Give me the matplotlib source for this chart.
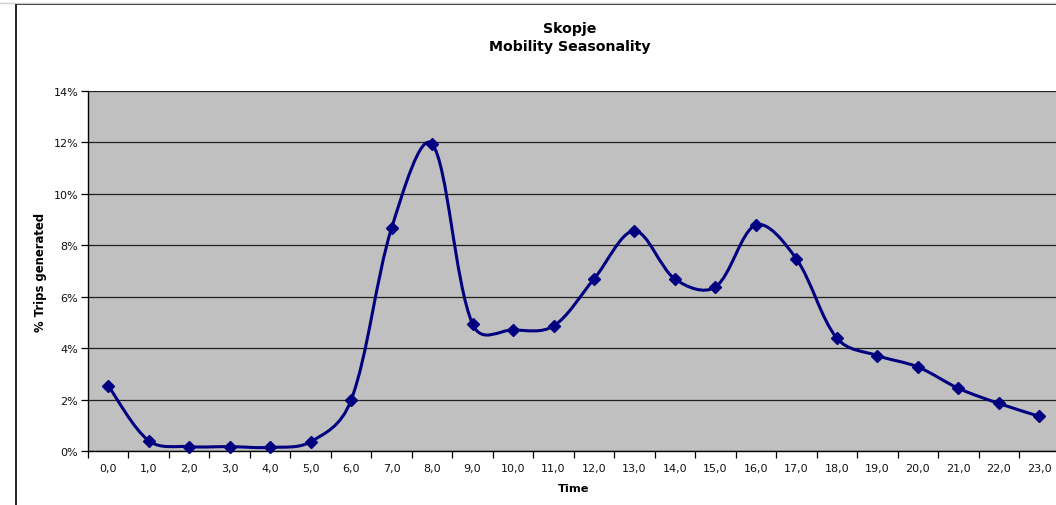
import numpy as np
import matplotlib
matplotlib.use("Agg")
import matplotlib.pyplot as plt
from matplotlib.path import Path
from matplotlib.patches import PathPatch
from matplotlib.lines import Line2D
from matplotlib.ticker import FixedLocator, FuncFormatter

hours = list(range(24))
hour_labels = ["%d,0" % h for h in hours]
trips = [2.54, 0.40, 0.17, 0.17, 0.14, 0.36, 1.98, 8.67, 11.94, 4.94, 4.71, 4.86,
         6.69, 8.56, 6.69, 6.38, 8.79, 7.47, 4.39, 3.71, 3.27, 2.44, 1.85, 1.35]

plt.rcParams['font.family'] = ['DejaVu Sans']

W, H = 1056, 506
fig = plt.figure(figsize=(W / 100, H / 100), dpi=100)

# outer chart border (cropped on right/bottom)
fig.add_artist(Line2D([16 / W, 16 / W], [0, 1 - 5 / H], color='black', lw=1.2))
fig.add_artist(Line2D([16 / W, 1], [1 - 5 / H, 1 - 5 / H], color='black', lw=1.2))
fig.add_artist(Line2D([0, 1], [1 - 3.5 / H, 1 - 3.5 / H], color='#d0d0d0', lw=1))

cat_w = (1039 - 108) / 23
left, right = 88, 88 + 24 * cat_w
top, bottom = 92, 452
ax = fig.add_axes([left / W, 1 - bottom / H, (right - left) / W, (bottom - top) / H])
ax.set_facecolor('#c0c0c0')

ax.set_xlim(-0.5, 23.5)
ax.set_ylim(0, 14)
ax.set_yticks(np.arange(0, 15, 2))
ax.yaxis.set_major_formatter(FuncFormatter(lambda v, p: "%d%%" % v))
ax.yaxis.grid(True, color='#202020', lw=0.9)
ax.set_axisbelow(True)

ax.xaxis.set_major_locator(FixedLocator(np.arange(-0.5, 24, 1)))
ax.xaxis.set_major_formatter(FuncFormatter(lambda v, p: ""))
ax.xaxis.set_minor_locator(FixedLocator(hours))
ax.set_xticklabels(hour_labels, minor=True)
ax.tick_params(axis='x', which='minor', length=0, pad=9, labelsize=8, labelcolor='#111111')
ax.tick_params(axis='x', which='major', length=5, width=0.9, direction='out')
ax.tick_params(axis='y', length=5, width=0.9, direction='out', labelsize=8, pad=2,
               labelcolor='#111111')

for s in ['top', 'right']:
    ax.spines[s].set_visible(False)
for s in ['left', 'bottom']:
    ax.spines[s].set_linewidth(1.0)

# smoothed line as Bezier segments, tangents partly weighted by segment lengths (pixels)
x = np.array(hours, dtype=float)
y = np.array(trips)
sx, sy = cat_w, (bottom - top) / 14.0
n = len(x)


def dist(i, j):
    return np.hypot((x[j] - x[i]) * sx, (y[j] - y[i]) * sy)


def factor(d_near, d_far):
    if d_near + d_far == 0:
        return 1.0 / 6
    return 0.5 / 6 + 0.5 * (2.0 / 6) * d_near / (d_near + d_far)


verts = [(x[0], y[0])]
codes = [Path.MOVETO]
for i in range(n - 1):
    a, b = max(i - 1, 0), min(i + 2, n - 1)
    j = i + 1
    f = factor(dist(i, j), dist(a, i)) if a != i else 1.0 / 6
    c1 = (x[i] + (x[j] - x[a]) * f, y[i] + (y[j] - y[a]) * f)
    f = factor(dist(i, j), dist(j, b)) if b != j else 1.0 / 6
    c2 = (x[j] - (x[b] - x[i]) * f, y[j] - (y[b] - y[i]) * f)
    verts += [c1, c2, (x[j], y[j])]
    codes += [Path.CURVE4] * 3
ax.add_patch(PathPatch(Path(verts, codes), fill=False, edgecolor='#000080', lw=2.2,
                       clip_on=False, zorder=3))
ax.plot(hours, trips, linestyle='none', marker='D', markersize=6.5, color='#000080',
        clip_on=False, zorder=4)

ax.set_xlabel("Time", fontsize=8.2, fontweight='bold', labelpad=7)
ax.set_ylabel("% Trips generated", fontsize=8.4, fontweight='bold', labelpad=5)

fig.text(570 / W, 1 - 38 / H, "Skopje\nMobility Seasonality", ha='center', va='center',
         fontsize=10.2, fontweight='bold', linespacing=1.45)

fig.savefig("out.png", dpi=100)
